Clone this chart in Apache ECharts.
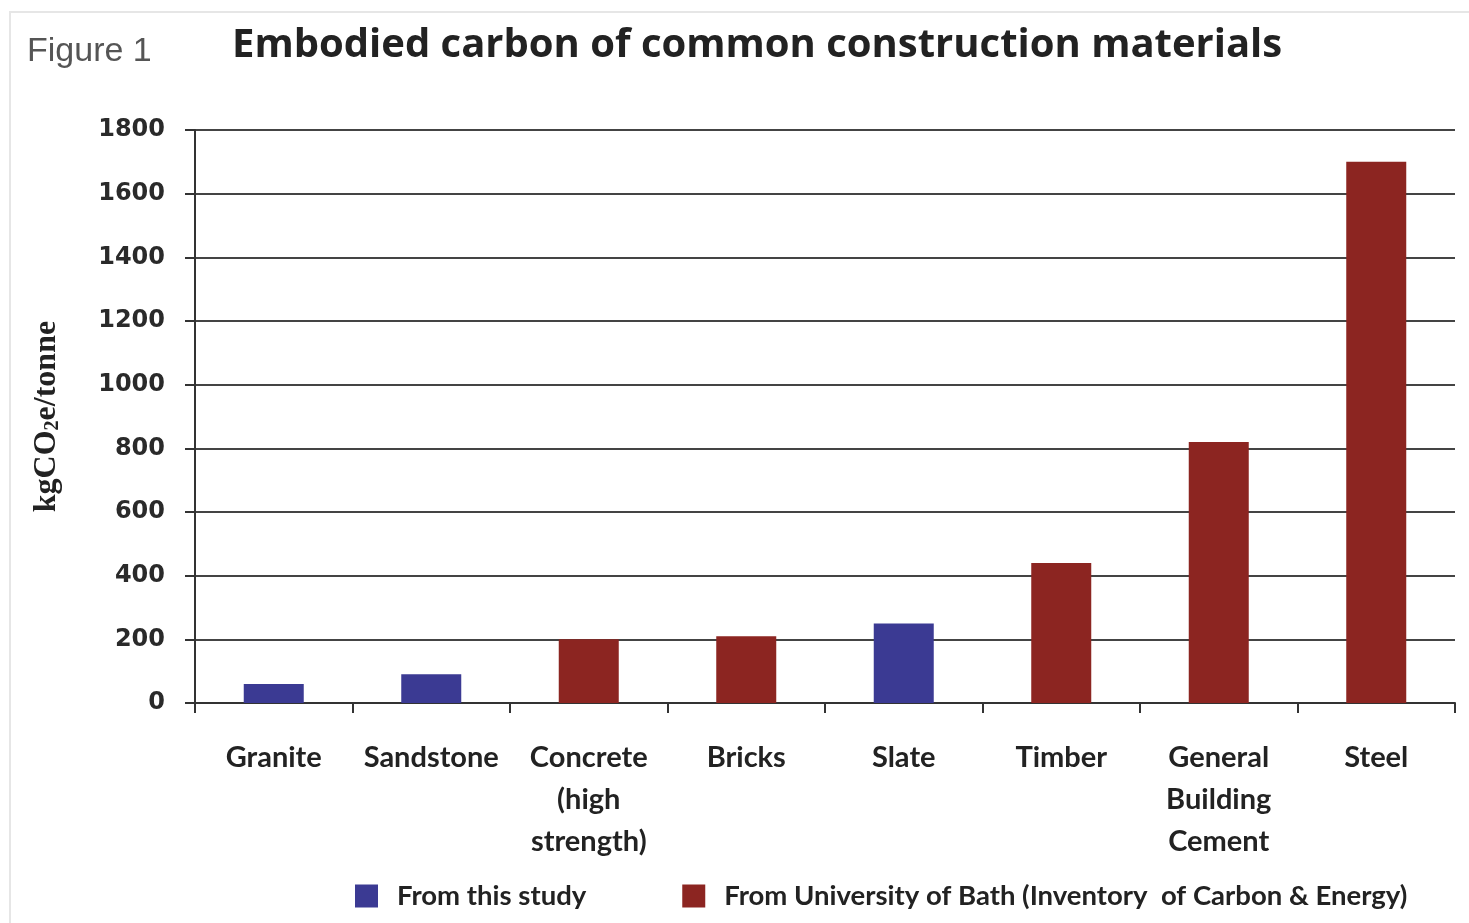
<!DOCTYPE html>
<html><head><meta charset="utf-8">
<script src="https://cdn.jsdelivr.net/npm/echarts@6/dist/echarts.min.js"></script>
<style>html,body{margin:0;padding:0;background:#fff}#c{width:1469px;height:923px}</style>
</head><body><div id="c"></div>
<script>
const categories = ['Granite','Sandstone','Concrete\n(high\nstrength)','Bricks','Slate','Timber','General\nBuilding\nCement','Steel'];
const thisStudy = [60, 90, null, null, 250, null, null, null];
const bath = [null, null, 200, 210, null, 440, 820, 1700];
const yTicks = [0, 200, 400, 600, 800, 1000, 1200, 1400, 1600, 1800];

const chart = echarts.init(document.getElementById('c'));
chart.setOption({
  backgroundColor: '#fff',
  animation: false,
  graphic: [
    {type:'rect', shape:{x:10,y:12,width:1470,height:920}, style:{fill:'none', stroke:'#e6e6e6', lineWidth:2}},
    {type:'text', left:27, top:35, style:{text:'Figure 1', font:'34px "Liberation Sans", Arial, sans-serif', fill:'#555'}},
    {type:'text', left:232, top:26, style:{text:'Embodied carbon of common construction materials', font:'bold 40px "Open Sans", "Noto Sans", sans-serif', fill:'#222'}}
  ],
  grid: {left:195, right:14, top:130, bottom:220},
  legend: {
    bottom: 8, left: 350, itemGap: 96, itemWidth: 23, itemHeight: 23,
    icon: 'rect',
    textStyle: {fontSize: 27.5, fontFamily: 'Lato, sans-serif', fontWeight: 'bold', color:'#222', padding:[0,0,0,14]},
    data: ['From this study', 'From University of Bath (Inventory  of Carbon & Energy)']
  },
  xAxis: {
    type: 'category', data: categories,
    axisLine: {lineStyle: {color:'#333', width:2}},
    axisTick: {show:true, length:10, lineStyle:{color:'#333', width:2}},
    axisLabel: {fontSize: 29, fontFamily: 'Lato, sans-serif', fontWeight: 'bold', color:'#222', lineHeight: 42, margin: 34, interval: 0}
  },
  yAxis: {
    type: 'value', min: 0, max: 1800, interval: 200,
    name: '{a|kgCO}{s|2}{a|e/tonne}', nameLocation: 'middle', nameGap: 132, nameRotate: 90,
    nameTextStyle: {rich: {
      a: {fontSize: 32, fontWeight:'bold', fontFamily:'"Liberation Serif", "Times New Roman", serif', color:'#222'},
      s: {fontSize: 20, fontWeight:'bold', fontFamily:'"Liberation Serif", serif', color:'#222', verticalAlign:'bottom', padding:[12,0,0,0]}
    }},
    axisLine: {show:true, lineStyle: {color:'#333', width:2}},
    axisTick: {show:true, length:10, lineStyle:{color:'#333', width:2}},
    splitLine: {lineStyle: {color:'#444', width:2}},
    axisLabel: {fontSize: 24, fontWeight:'bold', fontFamily: '"DejaVu Sans", Verdana, sans-serif', color:'#2a2a2a', margin: 30,
      formatter: v => yTicks.includes(v) ? String(v) : ''}
  },
  series: [
    {name:'From this study', type:'bar', stack:'s', data: thisStudy, barWidth: 60, itemStyle:{color:'#3b3a93'}},
    {name:'From University of Bath (Inventory  of Carbon & Energy)', type:'bar', stack:'s', data: bath, barWidth: 60, itemStyle:{color:'#8c2521'}}
  ]
});
</script></body></html>
